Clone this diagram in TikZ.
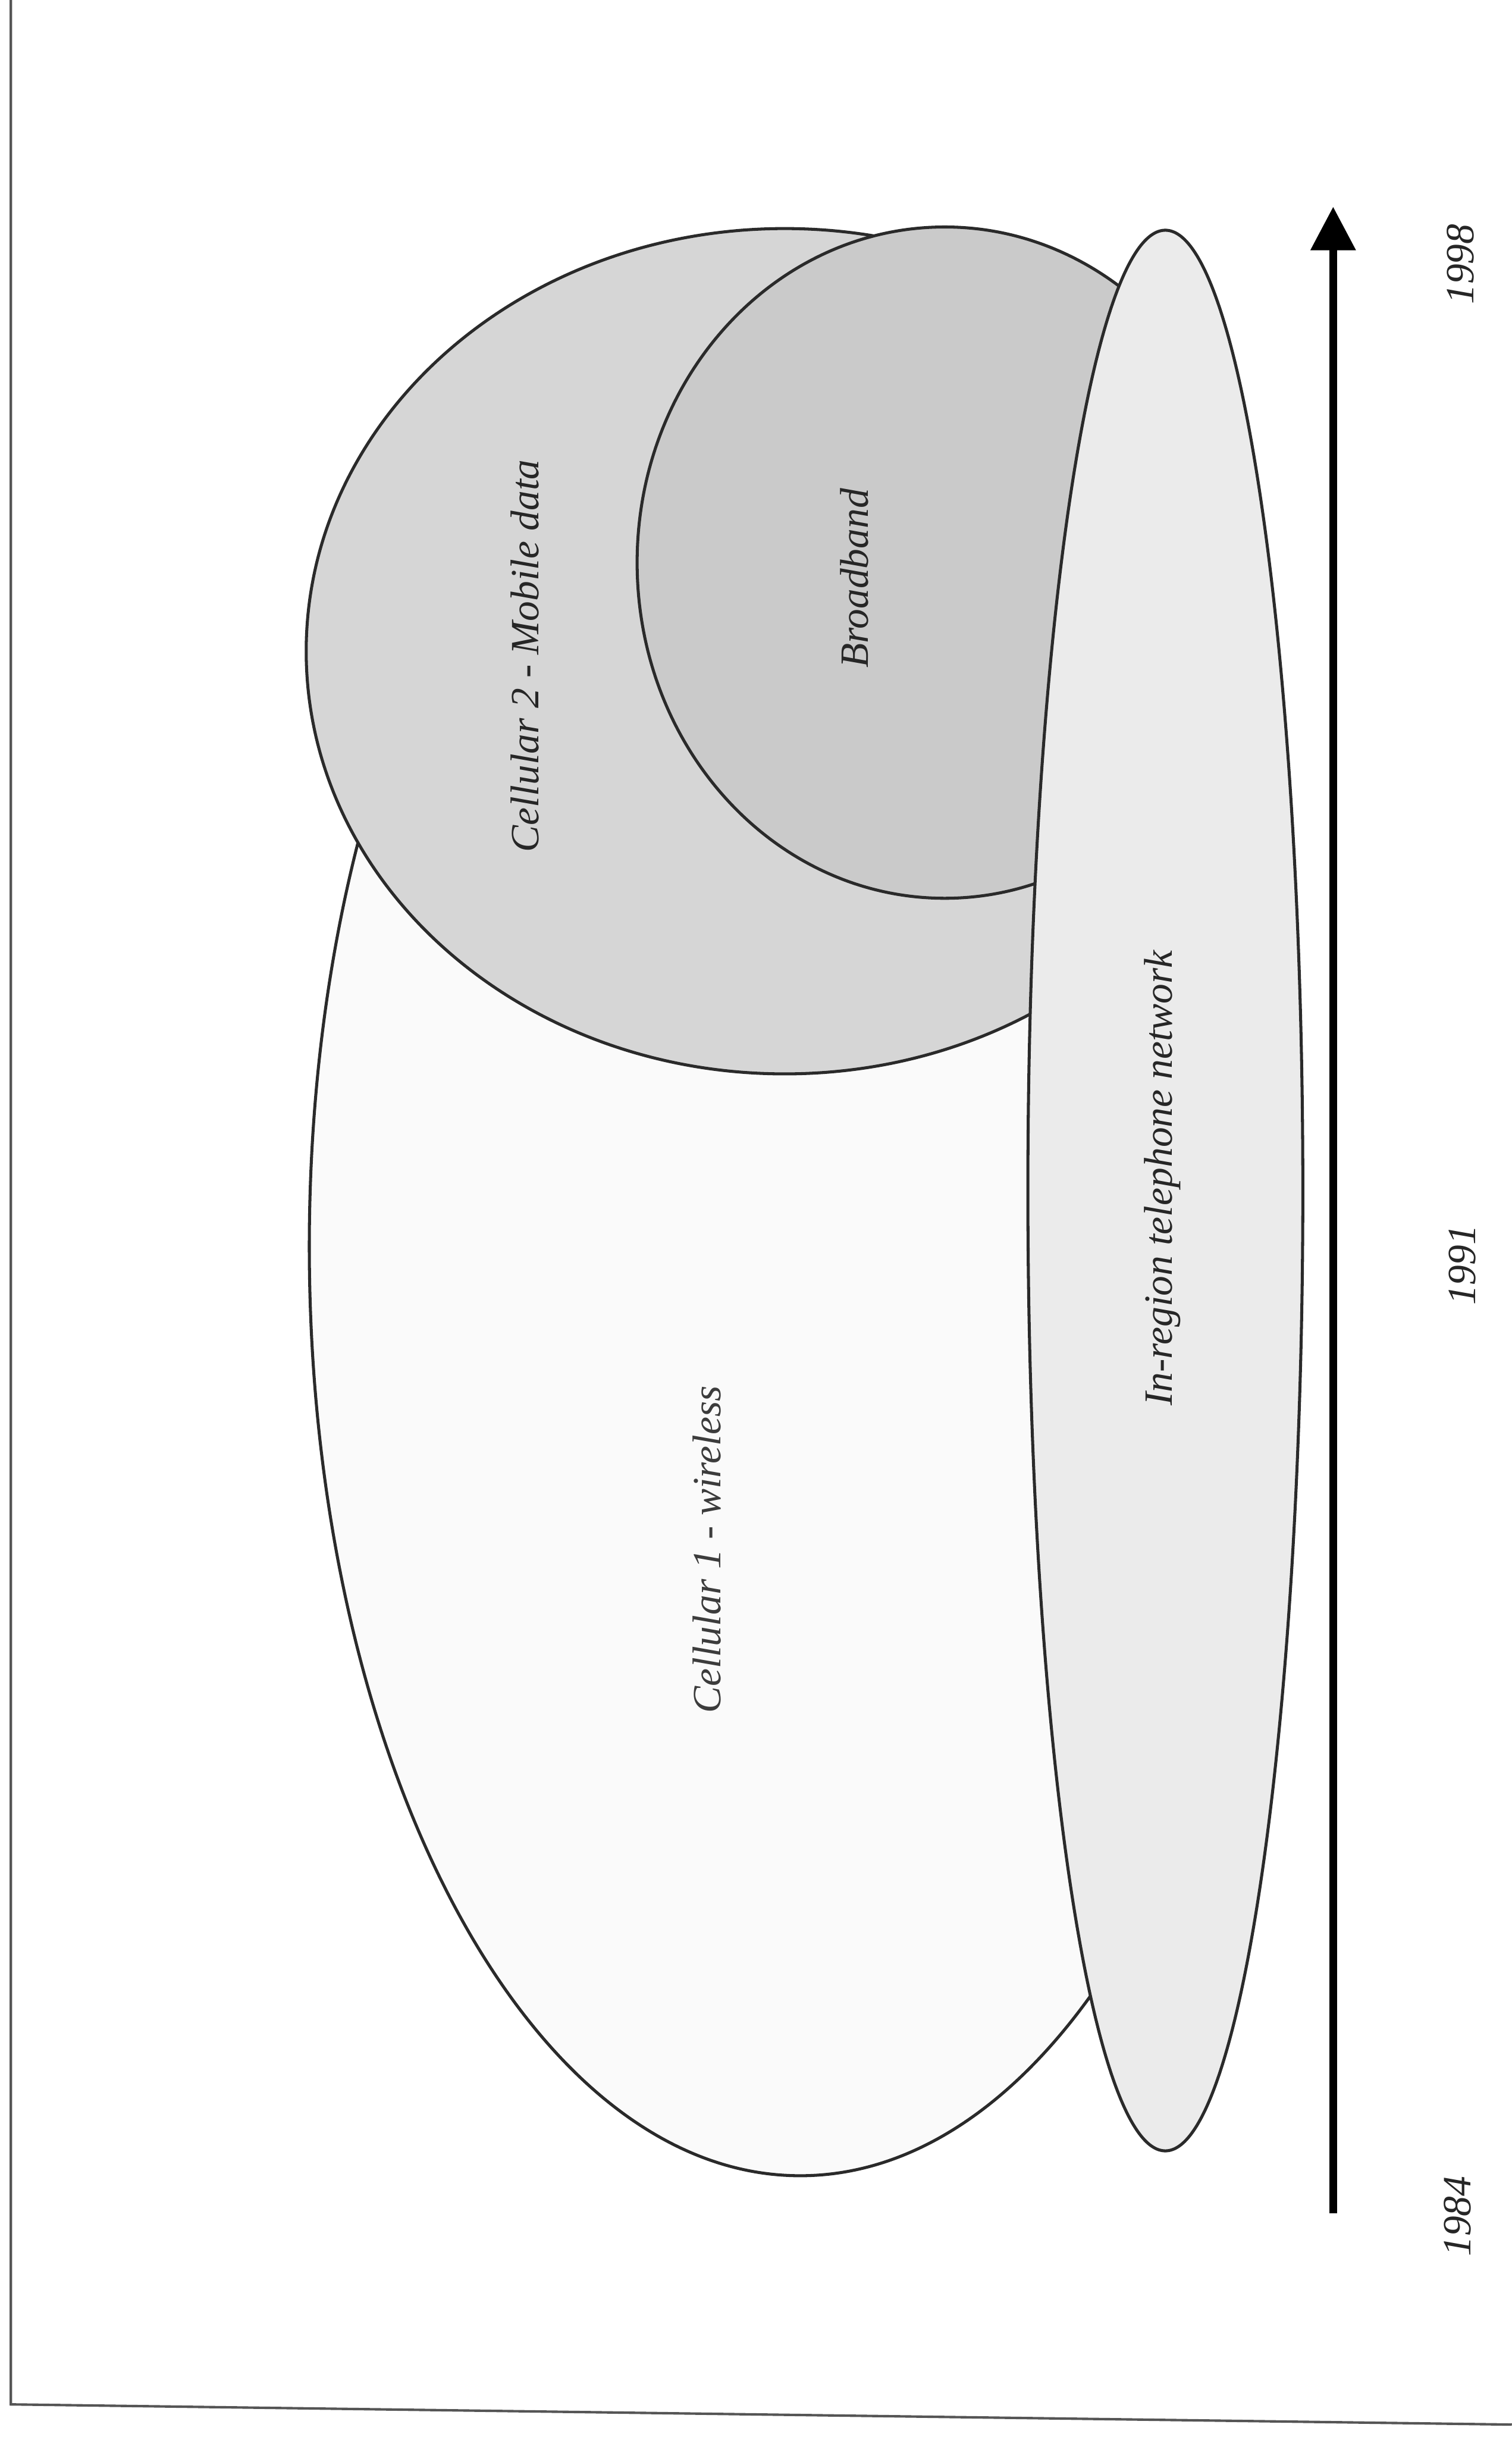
\documentclass[tikz,border=0pt]{standalone}
\usepackage{fontspec}
\setmainfont{Liberation Serif}
\usetikzlibrary{arrows.meta,shapes.geometric}
\definecolor{edgec}{HTML}{2A2A2A}
\definecolor{framec}{HTML}{555555}
\definecolor{textc}{HTML}{262626}
\definecolor{softtext}{HTML}{3C3C3C}
\definecolor{cellonefill}{HTML}{FAFAFA}
\definecolor{celltwofill}{HTML}{D6D6D6}
\definecolor{broadfill}{HTML}{CACACA}
\definecolor{phonefill}{HTML}{EBEBEB}
\begin{document}
\begin{tikzpicture}[x=0.02cm,y=-0.02cm,
  region/.style={ellipse, draw=edgec, line width=1.1pt, inner sep=0pt},
  lbl/.style={font=\itshape\fontsize{14.7}{15}\selectfont, text=textc, rotate=90, inner sep=0pt},
  yearlbl/.style={font=\itshape\fontsize{14.7}{15}\selectfont, text=textc, rotate=90, inner sep=0pt},
  timeline/.style={line width=2.8pt, draw=black, -{Triangle[width=0.56cm,length=0.56cm]}}]
\useasboundingbox (0,0) rectangle (973,1568);
\fill[white] (0,0) rectangle (973,1568);

% page frame (left and bottom edges)
\coordinate (ftop) at (7,0);
\coordinate (fcorner) at (7,1547);
\coordinate (fright) at (973,1560);
\draw[framec, line width=0.9pt] (ftop) -- (fcorner) -- (fright);

% overlapping service regions, back to front
\node[region, fill=cellonefill, minimum width=12.64cm, minimum height=23.92cm] (cellone) at (515,802) {};
\node[region, fill=celltwofill, minimum width=12.32cm, minimum height=10.88cm] (celltwo) at (505,419) {};
\node[region, fill=broadfill, minimum width=7.92cm, minimum height=8.64cm] (broad) at (608,362) {};
\node[region, fill=phonefill, minimum width=3.54cm, minimum height=24.72cm] (phone) at (750,766) {};

% region labels
\node[lbl, text=softtext] (lcellone) at (455,997) {Cellular 1 - wireless};
\node[lbl] (lcelltwo) at (338,422) {Cellular 2 - Mobile data};
\node[lbl] (lbroad) at (550,372) {Broadband};
\node[lbl] (lphone) at (748,758) {In-region telephone network};

% time axis
\coordinate (tstart) at (858,1424);
\coordinate (tend) at (858,133);
\draw[timeline] (tstart) -- (tend);

\node[yearlbl] (ya) at (938,1426) {1984};
\node[yearlbl] (yb) at (941,814) {1991};
\node[yearlbl] (yc) at (940,170) {1998};
\end{tikzpicture}
\end{document}
